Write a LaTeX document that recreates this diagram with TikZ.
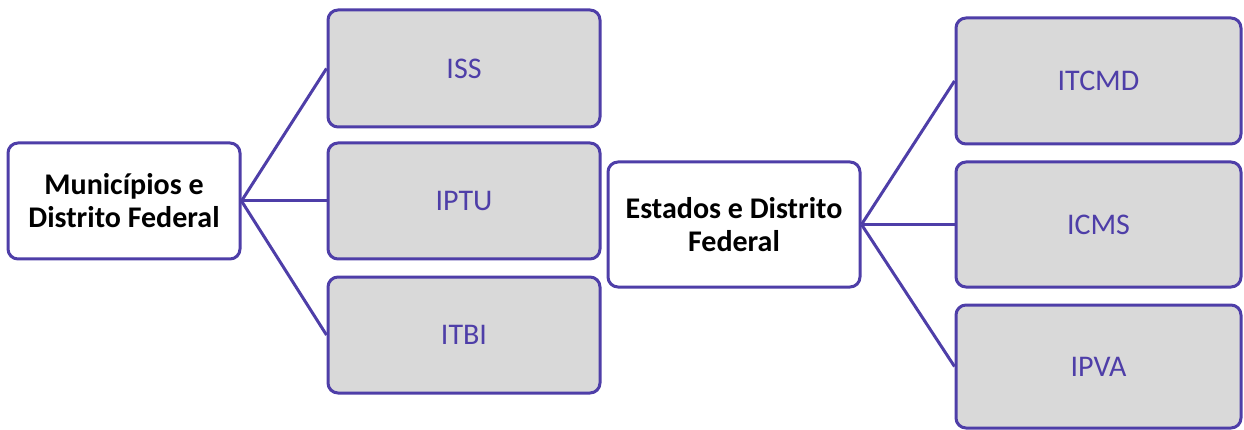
\documentclass[tikz,border=0pt]{standalone}
\usepackage{fontspec}
\setmainfont{Carlito}
\definecolor{edge}{RGB}{78,62,168}
\definecolor{boxgray}{RGB}{217,217,217}
\begin{document}
\begin{tikzpicture}[x=1pt,y=-1pt,
  base/.style={draw=edge,line width=3pt,rounded corners=10pt,inner sep=0pt,align=center},
  mainbox/.style={base,fill=white,font=\fontsize{30}{33}\selectfont\bfseries,text=black},
  taxbox/.style={base,fill=boxgray,font=\fontsize{30}{33}\selectfont,text=edge},
  link/.style={draw=edge,line width=3pt}]
\useasboundingbox (0,0) rectangle (1244,430);
\node[mainbox,minimum width=232pt,minimum height=116pt] (mun) at (124,201) {Municípios e\\Distrito Federal};
\node[taxbox,minimum width=272pt,minimum height=117pt] (iss) at (464,68.5) {ISS};
\node[taxbox,minimum width=272pt,minimum height=116pt] (iptu) at (464,201) {IPTU};
\node[taxbox,minimum width=272pt,minimum height=116pt] (itbi) at (464,335) {ITBI};
\node[mainbox,minimum width=252pt,minimum height=125pt] (est) at (734,224.5) {Estados e Distrito\\Federal};
\node[taxbox,minimum width=285pt,minimum height=126pt] (itcmd) at (1098.5,81) {ITCMD};
\node[taxbox,minimum width=285pt,minimum height=125pt] (icms) at (1098.5,224.5) {ICMS};
\node[taxbox,minimum width=285pt,minimum height=123pt] (ipva) at (1098.5,366.5) {IPVA};
\draw[link] (mun.east) -- (iss.west);
\draw[link] (mun.east) -- (iptu.west);
\draw[link] (mun.east) -- (itbi.west);
\draw[link] (est.east) -- (itcmd.west);
\draw[link] (est.east) -- (icms.west);
\draw[link] (est.east) -- (ipva.west);
\end{tikzpicture}
\end{document}
